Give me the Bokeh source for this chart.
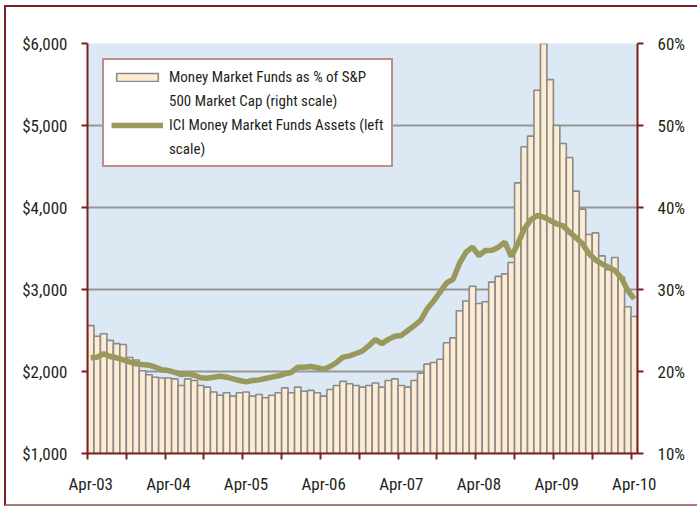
import pandas as pd
from bokeh.plotting import figure
from bokeh.models import (Range1d, LinearAxis, FixedTicker, NumeralTickFormatter,
                          PrintfTickFormatter, Legend, LegendItem)
from bokeh.embed import file_html
from bokeh.resources import INLINE

months = list(pd.date_range("2003-04-01", "2010-04-01", freq="MS").strftime("%b-%y"))

# Money Market Funds as % of S&P 500 market cap (right scale, %)
mmf_pct = [25.6, 24.3, 24.6, 23.8, 23.4, 23.3, 21.7, 21.4, 20.1, 19.6,
           19.3, 19.2, 19.2, 19.1, 18.3, 19.1, 18.9, 18.3, 18.1, 17.5,
           17.1, 17.4, 17.0, 17.4, 17.5, 17.0, 17.2, 16.8, 17.1, 17.4,
           18.0, 17.4, 18.1, 17.6, 17.7, 17.4, 17.0, 17.8, 18.3, 18.8,
           18.5, 18.3, 18.1, 18.3, 18.6, 18.1, 18.9, 19.1, 18.3, 18.1,
           18.9, 19.8, 20.9, 21.1, 21.5, 23.5, 24.1, 27.4, 28.6, 30.4,
           28.3, 28.5, 30.9, 31.6, 31.9, 33.3, 43.0, 47.4, 48.7, 54.3,
           61.0, 55.6, 50.0, 47.8, 46.1, 42.0, 39.8, 36.7, 36.9, 34.1,
           32.4, 33.9, 31.5, 27.9, 26.7]

# ICI money market funds assets (left scale, $ billions)
ici_assets = [2167, 2175, 2216, 2183, 2167, 2143, 2118, 2094, 2085, 2077,
              2052, 2020, 2012, 1988, 1963, 1972, 1955, 1923, 1918, 1931,
              1943, 1931, 1911, 1890, 1874, 1890, 1898, 1915, 1931, 1947,
              1972, 1988, 2052, 2052, 2061, 2045, 2028, 2061, 2110, 2175,
              2191, 2220, 2250, 2315, 2390, 2340, 2392, 2430, 2440, 2500,
              2560, 2625, 2765, 2860, 2970, 3080, 3125, 3320, 3455, 3516,
              3415, 3476, 3480, 3516, 3577, 3402, 3557, 3740, 3850, 3902,
              3882, 3841, 3801, 3777, 3699, 3630, 3557, 3435, 3362, 3313,
              3272, 3232, 3142, 2988, 2886]

left_ticks = [1000, 2000, 3000, 4000, 5000, 6000]
right_ticks = [10, 20, 30, 40, 50, 60]

legend_lines_bar = ["Money Market Funds as % of S&P", "500 Market Cap (right scale)"]
legend_lines_line = ["ICI Money Market Funds Assets (left", "scale)"]

idx = list(range(len(months)))
label_idx = [i for i in idx if months[i].startswith("Apr")]
minor_pos = [i - 0.5 for i in idx if i % 6 == 0]

DARK_RED = "#7a1e1e"
TXT = "#231f20"
FONT = "Roboto Condensed"

p = figure(width=693, height=501, output_backend="svg", toolbar_location=None,
           x_range=Range1d(-0.5, len(months) - 0.5), y_range=Range1d(1000, 6000),
           min_border_left=81, min_border_right=62, min_border_top=36,
           min_border_bottom=55,
           styles={"border-left": "2px solid " + DARK_RED,
                   "border-top": "2px solid " + DARK_RED,
                   "border-bottom": "2px solid #b07a78",
                   "margin-left": "4px", "margin-top": "5px"})
p.background_fill_color = "#dde8f5"
p.border_fill_color = "white"
p.outline_line_color = None
p.xaxis.visible = False
p.yaxis.visible = False
p.xgrid.visible = False
p.ygrid.ticker = FixedTicker(ticks=left_ticks)
p.ygrid.grid_line_color = "#969696"
p.ygrid.grid_line_width = 2

p.extra_y_ranges = {"pct": Range1d(10, 60)}

bars = p.vbar(x=idx, top=mmf_pct, bottom=10, width=1.0, y_range_name="pct",
              fill_color="#fdebd2", line_color="#8a8a8a", line_width=1.6)
line = p.line(x=idx, y=ici_assets, line_color="#98995a", line_width=5.5)

def style_axis(ax):
    ax.axis_line_color = DARK_RED
    ax.axis_line_width = 2
    ax.major_tick_line_color = DARK_RED
    ax.major_tick_line_width = 2
    ax.major_tick_in = 0
    ax.major_tick_out = 6
    ax.minor_tick_line_color = None
    ax.major_label_text_font = FONT
    ax.major_label_text_font_size = "17px"
    ax.major_label_text_color = TXT
    ax.major_label_standoff = 14

left = LinearAxis(ticker=FixedTicker(ticks=left_ticks),
                  formatter=NumeralTickFormatter(format="$0,0"))
style_axis(left)
p.add_layout(left, "left")

right = LinearAxis(y_range_name="pct", ticker=FixedTicker(ticks=right_ticks),
                   formatter=PrintfTickFormatter(format="%d%%"))
style_axis(right)
right.major_label_standoff = 14
p.add_layout(right, "right")

bottom = LinearAxis(ticker=FixedTicker(ticks=label_idx, minor_ticks=minor_pos),
                    major_label_overrides={i: months[i] for i in label_idx})
style_axis(bottom)
bottom.major_tick_line_color = None
bottom.minor_tick_line_color = DARK_RED
bottom.minor_tick_line_width = 2
bottom.minor_tick_in = 0
bottom.minor_tick_out = 6
bottom.major_label_standoff = 14
p.add_layout(bottom, "below")

legend = Legend(items=[
    LegendItem(label=legend_lines_bar[0], renderers=[bars]),
    LegendItem(label=legend_lines_bar[1], renderers=[]),
    LegendItem(label=legend_lines_line[0], renderers=[line]),
    LegendItem(label=legend_lines_line[1], renderers=[]),
], location="top_left")
legend.margin = 15
legend.padding = 7
legend.spacing = 5
legend.glyph_width = 52
legend.glyph_height = 10
legend.label_height = 19
legend.label_standoff = 6
legend.label_text_font = FONT
legend.label_text_font_size = "15px"
legend.label_text_color = TXT
legend.border_line_color = DARK_RED
legend.border_line_width = 2
legend.background_fill_color = "white"
legend.background_fill_alpha = 1
p.add_layout(legend)

open("out.html", "w").write(file_html(p, INLINE))
